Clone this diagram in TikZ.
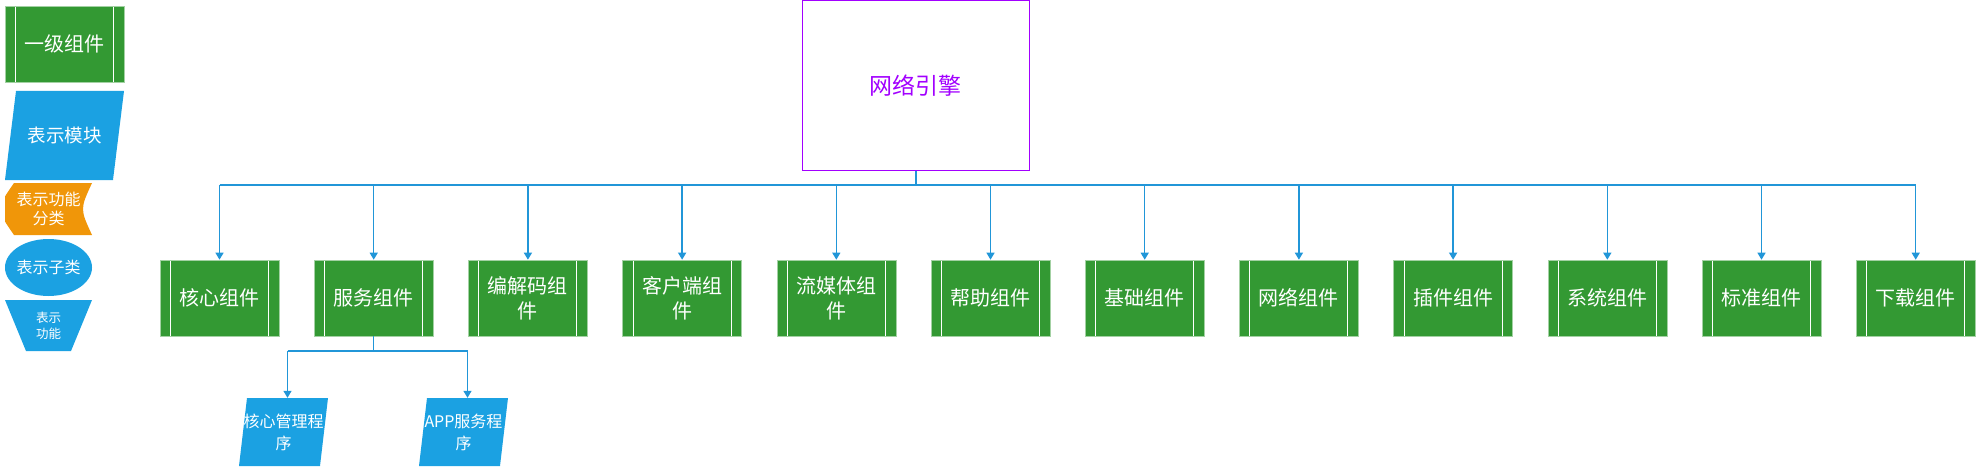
\documentclass[tikz,border=0pt]{standalone}
\usepackage{fontspec}
\setmainfont{Noto Sans CJK SC}
\usetikzlibrary{shapes,arrows.meta,positioning}
\definecolor{compgreen}{HTML}{339933}
\definecolor{modblue}{HTML}{1BA1E2}
\definecolor{catorange}{HTML}{F09609}
\definecolor{engpurple}{HTML}{A200FF}
\definecolor{linkblue}{HTML}{2196D8}

\begin{document}
\begin{tikzpicture}[x=1pt,y=-1pt]
\tikzset{component/.style={rectangle,fill=compgreen,draw=compgreen!45!white,line width=0.6pt,minimum width=119pt,minimum height=76pt,inner sep=0pt,text=white,align=center,font=\fontsize{20}{25}\selectfont,
  path picture={\draw[white,line width=1pt]([xshift=10.5pt]path picture bounding box.north west) -- ([xshift=10.5pt]path picture bounding box.south west) ([xshift=-10.5pt]path picture bounding box.north east) -- ([xshift=-10.5pt]path picture bounding box.south east);}}}
\tikzset{modbox/.style={rectangle,inner sep=0pt,text=white,align=center,
  path picture={\fill[modblue]([xshift=#1]path picture bounding box.north west) -- (path picture bounding box.north east) -- ([xshift=-#1]path picture bounding box.south east) -- (path picture bounding box.south west) -- cycle;}}}
\tikzset{engine/.style={rectangle,draw=engpurple,line width=1pt,minimum width=227pt,minimum height=169pt,text=engpurple,font=\fontsize{23}{28}\selectfont}}
\tikzset{link/.style={draw=linkblue,line width=1.3pt},bus/.style={link,line width=2pt},arrowlink/.style={link,-{Triangle[width=8pt,length=7pt]}}}
\useasboundingbox (0,0) rectangle (1980,468);

\node[component](l1) at (64.5,44){一级组件};
\node[modbox=11pt,minimum width=119pt,minimum height=89pt,font=\fontsize{18.5}{22}\selectfont](l2) at (64.5,135.5){表示模块};
\node[rectangle,inner sep=0pt,text=white,align=center,minimum width=87pt,minimum height=52pt,font=\fontsize{16}{19}\selectfont,
  path picture={\fill[catorange]([xshift=9pt]path picture bounding box.north west) -- (path picture bounding box.north east) .. controls ([xshift=-12pt]path picture bounding box.east) .. (path picture bounding box.south east) -- ([xshift=9pt]path picture bounding box.south west) .. controls ([xshift=-9pt]path picture bounding box.west) .. ([xshift=9pt]path picture bounding box.north west);}](l3) at (48.5,209){表示功能\\分类};
\node[rectangle,inner sep=0pt,text=white,minimum width=87pt,minimum height=57pt,font=\fontsize{16}{19}\selectfont,
  path picture={\fill[modblue](path picture bounding box.center) ellipse (43.5pt and 28.5pt);}](l4) at (48.5,267.5){表示子类};
\node[rectangle,inner sep=0pt,text=white,align=center,minimum width=87pt,minimum height=51pt,font=\fontsize{12.5}{16}\selectfont,
  path picture={\fill[modblue](path picture bounding box.north west) -- (path picture bounding box.north east) -- ([xshift=-21pt]path picture bounding box.south east) -- ([xshift=21pt]path picture bounding box.south west) -- cycle;}](l5) at (48.5,325.5){表示\\功能};

\node[engine](eng) at (915.5,85.5){网络引擎};
\node[component](c1) at (219.5,298){核心组件};
\node[component](c2)[right=34.6pt of c1]{服务组件};
\node[component](c3)[right=34.6pt of c2]{编解码组\\件};
\node[component](c4)[right=34.6pt of c3]{客户端组\\件};
\node[component](c5)[right=34.6pt of c4]{流媒体组\\件};
\node[component](c6)[right=34.6pt of c5]{帮助组件};
\node[component](c7)[right=34.6pt of c6]{基础组件};
\node[component](c8)[right=34.6pt of c7]{网络组件};
\node[component](c9)[right=34.6pt of c8]{插件组件};
\node[component](c10)[right=34.6pt of c9]{系统组件};
\node[component](c11)[right=34.6pt of c10]{标准组件};
\node[component](c12)[right=34.6pt of c11]{下载组件};

\coordinate (busline) at (0,185);
\draw[bus](eng.south) -- (eng.south |- busline);
\draw[bus](c1 |- busline) -- (c12 |- busline);
\draw[arrowlink](c1 |- busline) -- (c1.north);
\draw[arrowlink](c2 |- busline) -- (c2.north);
\draw[arrowlink](c3 |- busline) -- (c3.north);
\draw[arrowlink](c4 |- busline) -- (c4.north);
\draw[arrowlink](c5 |- busline) -- (c5.north);
\draw[arrowlink](c6 |- busline) -- (c6.north);
\draw[arrowlink](c7 |- busline) -- (c7.north);
\draw[arrowlink](c8 |- busline) -- (c8.north);
\draw[arrowlink](c9 |- busline) -- (c9.north);
\draw[arrowlink](c10 |- busline) -- (c10.north);
\draw[arrowlink](c11 |- busline) -- (c11.north);
\draw[arrowlink](c12 |- busline) -- (c12.north);

\node[modbox=8pt,minimum width=89pt,minimum height=68pt,font=\fontsize{16}{22}\selectfont](p1) at (283.5,432){核心管理程\\序};
\node[modbox=8pt,minimum width=89pt,minimum height=68pt,font=\fontsize{16}{22}\selectfont](p2) at (463.5,432){APP服务程\\序};
\coordinate (subline) at (0,351);
\coordinate (p1top) at ([xshift=4pt]p1.north);
\coordinate (p2top) at ([xshift=4pt]p2.north);
\draw[link](c2.south) -- (c2.south |- subline);
\draw[link](p1top |- subline) -- (p2top |- subline);
\draw[arrowlink](p1top |- subline) -- (p1top);
\draw[arrowlink](p2top |- subline) -- (p2top);
\end{tikzpicture}
\end{document}
